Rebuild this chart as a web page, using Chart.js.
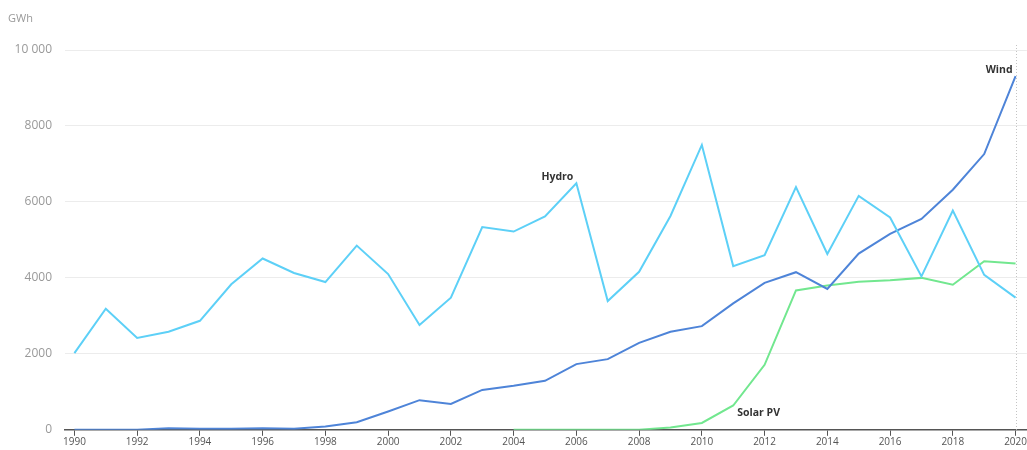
<!DOCTYPE html>
<html>
<head>
<meta charset="utf-8">
<script src="https://cdn.jsdelivr.net/npm/chart.js@4/dist/chart.umd.min.js"></script>
<style>
  html, body { margin: 0; padding: 0; background: #fff; }
  #wrap { width: 1027px; height: 450px; }
</style>
</head>
<body>
<div id="wrap"><canvas id="c"></canvas></div>
<script>
const years = [1990, 1991, 1992, 1993, 1994, 1995, 1996, 1997, 1998, 1999,
  2000, 2001, 2002, 2003, 2004, 2005, 2006, 2007, 2008, 2009,
  2010, 2011, 2012, 2013, 2014, 2015, 2016, 2017, 2018, 2019, 2020];
const hydro = [2020, 3190, 2420, 2580, 2870, 3830, 4510, 4130, 3890, 4850,
  4100, 2760, 3480, 5340, 5220, 5620, 6490, 3390, 4160, 5630,
  7500, 4310, 4600, 6390, 4630, 6160, 5590, 4040, 5770, 4080, 3480];
const wind = [0, 0, 0, 40, 30, 30, 40, 30, 90, 200,
  480, 780, 680, 1050, 1160, 1290, 1730, 1860, 2290, 2580,
  2730, 3330, 3870, 4150, 3710, 4640, 5160, 5550, 6320, 7260, 9310];
const solar = [null, null, null, null, null, null, null, null, null, null,
  null, null, null, null, 0, 0, 0, 0, 0, 60,
  180, 640, 1710, 3670, 3800, 3900, 3940, 4000, 3820, 4440, 4380];
const xTicks = [1990, 1992, 1994, 1996, 1998, 2000, 2002, 2004, 2006, 2008,
  2010, 2012, 2014, 2016, 2018, 2020];
const yTicks = [0, 2000, 4000, 6000, 8000, 10000];

// series name labels: [text, year, value, dx, dy, align]
const seriesLabels = [
  ['Hydro', 2006, 6490, -3, -6, 'right'],
  ['Wind', 2020, 9310, -3, -6, 'right'],
  ['Solar PV', 2011, 640, 4, 8, 'left']
];

const pts = arr => years.map((y, i) => ({ x: y, y: arr[i] }));

const extras = {
  id: 'extras',
  beforeDatasetsDraw(chart) {
    const ctx = chart.ctx, xs = chart.scales.x, area = chart.chartArea;
    const px = xs.getPixelForValue(2020);
    ctx.save();
    ctx.strokeStyle = '#c4c4c4';
    ctx.lineWidth = 1;
    ctx.setLineDash([1, 2]);
    ctx.beginPath();
    ctx.moveTo(Math.round(px) + 0.5, area.top - 5);
    ctx.lineTo(Math.round(px) + 0.5, area.bottom);
    ctx.stroke();
    ctx.restore();
  },
  afterDatasetsDraw(chart) {
    const ctx = chart.ctx, xs = chart.scales.x, ys = chart.scales.y;
    ctx.save();
    ctx.fillStyle = '#999';
    ctx.font = '11px "Open Sans"';
    ctx.textAlign = 'left';
    ctx.textBaseline = 'middle';
    ctx.fillText('GWh', 8, 19);
    ctx.fillStyle = '#333';
    ctx.font = 'bold 10.5px "Open Sans"';
    seriesLabels.forEach(([t, yr, v, dx, dy, al]) => {
      ctx.textAlign = al;
      ctx.fillText(t, xs.getPixelForValue(yr) + dx, ys.getPixelForValue(v) + dy);
    });
    ctx.restore();
  }
};

new Chart(document.getElementById('c'), {
  type: 'line',
  data: {
    datasets: [
      { label: 'Hydro', data: pts(hydro), borderColor: '#5dd0f7' },
      { label: 'Wind', data: pts(wind), borderColor: '#4e84d8' },
      { label: 'Solar PV', data: pts(solar), borderColor: '#72e78f' }
    ]
  },
  options: {
    responsive: true,
    maintainAspectRatio: false,
    animation: false,
    layout: { padding: { top: 50, right: 0, left: 0, bottom: 0 } },
    elements: {
      line: { borderWidth: 2, tension: 0 },
      point: { radius: 0 }
    },
    plugins: { legend: { display: false }, tooltip: { enabled: false } },
    scales: {
      x: {
        type: 'linear',
        min: 1989.7,
        max: 2020.36,
        afterBuildTicks: s => { s.ticks = xTicks.map(v => ({ value: v })); },
        afterFit: s => { s.height = 17; },
        grid: { drawOnChartArea: false, drawTicks: true, tickLength: 6, color: '#555' },
        border: { display: true, color: '#555', width: 1.5 },
        ticks: {
          padding: 0,
          color: '#555',
          font: { family: 'Open Sans', size: 10 },
          maxRotation: 0,
          callback: v => String(v)
        }
      },
      y: {
        min: 0,
        max: 10000,
        afterBuildTicks: s => { s.ticks = yTicks.map(v => ({ value: v })); },
        afterFit: s => { s.width = 65; },
        grid: { color: '#ececec', drawTicks: false, lineWidth: 1 },
        border: { display: false },
        ticks: {
          padding: 13,
          color: '#999',
          font: { family: 'Open Sans', size: 12 },
          callback: v => v >= 10000 ? '10 000' : String(v)
        }
      }
    }
  },
  plugins: [extras]
});
</script>
</body>
</html>
